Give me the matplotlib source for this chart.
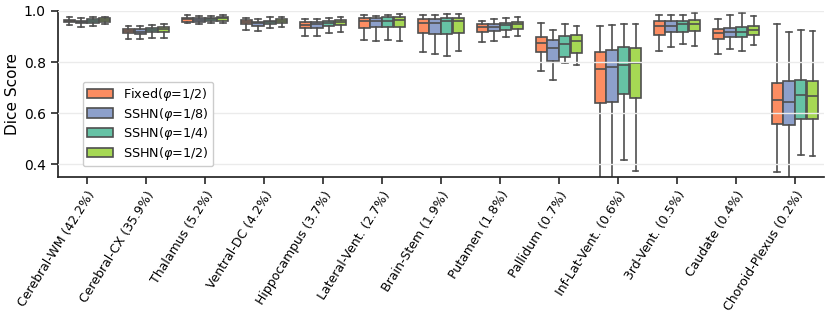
import matplotlib
matplotlib.use("Agg")
import matplotlib.pyplot as plt
from matplotlib.patches import Patch

categories = ["Cerebral-WM (42.2%)", "Cerebral-CX (35.9%)", "Thalamus (5.2%)",
              "Ventral-DC (4.2%)", "Hippocampus (3.7%)", "Lateral-Vent. (2.7%)",
              "Brain-Stem (1.9%)", "Putamen (1.8%)", "Pallidum (0.7%)",
              "Inf-Lat-Vent. (0.6%)", "3rd-Vent. (0.5%)", "Caudate (0.4%)",
              "Choroid-Plexus (0.2%)"]

series_names = ["Fixed($\\varphi$=1/2)", "SSHN($\\varphi$=1/8)",
                "SSHN($\\varphi$=1/4)", "SSHN($\\varphi$=1/2)"]
colors = ["#fc8d62", "#8da0cb", "#66c2a5", "#a6d854"]

# per-series box statistics: whisker low, q1, median, q3, whisker high
fixed_lo  = [0.945, 0.892, 0.952, 0.924, 0.902, 0.886, 0.838, 0.877, 0.766, 0.20, 0.843, 0.830, 0.371]
fixed_q1  = [0.955, 0.913, 0.957, 0.948, 0.933, 0.933, 0.913, 0.919, 0.838, 0.639, 0.907, 0.889, 0.557]
fixed_med = [0.961, 0.922, 0.967, 0.958, 0.946, 0.962, 0.954, 0.936, 0.874, 0.773, 0.941, 0.913, 0.652]
fixed_q3  = [0.966, 0.931, 0.974, 0.965, 0.956, 0.974, 0.969, 0.949, 0.898, 0.838, 0.961, 0.931, 0.717]
fixed_hi  = [0.977, 0.943, 0.983, 0.971, 0.970, 0.986, 0.984, 0.962, 0.952, 0.941, 0.983, 0.970, 0.948]

s8_lo  = [0.939, 0.892, 0.949, 0.922, 0.902, 0.884, 0.832, 0.884, 0.730, 0.20, 0.860, 0.851, 0.20]
s8_q1  = [0.952, 0.910, 0.958, 0.943, 0.935, 0.936, 0.909, 0.920, 0.803, 0.643, 0.919, 0.898, 0.553]
s8_med = [0.958, 0.919, 0.966, 0.952, 0.948, 0.961, 0.952, 0.936, 0.854, 0.780, 0.941, 0.918, 0.643]
s8_q3  = [0.961, 0.928, 0.971, 0.958, 0.957, 0.971, 0.967, 0.948, 0.886, 0.847, 0.961, 0.933, 0.725]
s8_hi  = [0.971, 0.943, 0.979, 0.967, 0.969, 0.982, 0.984, 0.970, 0.927, 0.944, 0.986, 0.986, 0.919]

s4_lo  = [0.941, 0.896, 0.954, 0.935, 0.914, 0.885, 0.823, 0.897, 0.795, 0.416, 0.870, 0.842, 0.438]
s4_q1  = [0.954, 0.917, 0.962, 0.949, 0.941, 0.939, 0.911, 0.926, 0.819, 0.675, 0.916, 0.898, 0.576]
s4_med = [0.961, 0.926, 0.967, 0.956, 0.952, 0.962, 0.960, 0.945, 0.872, 0.789, 0.948, 0.918, 0.671]
s4_q3  = [0.967, 0.933, 0.974, 0.962, 0.961, 0.975, 0.971, 0.952, 0.901, 0.858, 0.961, 0.936, 0.730]
s4_hi  = [0.976, 0.946, 0.980, 0.975, 0.974, 0.986, 0.988, 0.973, 0.948, 0.950, 0.986, 0.993, 0.924]

s2_lo  = [0.948, 0.896, 0.954, 0.939, 0.918, 0.884, 0.845, 0.903, 0.790, 0.374, 0.863, 0.867, 0.434]
s2_q1  = [0.957, 0.919, 0.962, 0.953, 0.944, 0.937, 0.914, 0.928, 0.834, 0.661, 0.920, 0.905, 0.576]
s2_med = [0.965, 0.928, 0.971, 0.962, 0.957, 0.965, 0.962, 0.948, 0.881, 0.795, 0.949, 0.924, 0.666]
s2_q3  = [0.971, 0.936, 0.978, 0.969, 0.965, 0.977, 0.971, 0.956, 0.907, 0.854, 0.964, 0.941, 0.725]
s2_hi  = [0.978, 0.948, 0.984, 0.975, 0.975, 0.988, 0.987, 0.975, 0.940, 0.948, 0.993, 0.980, 0.923]

series = [
    (fixed_lo, fixed_q1, fixed_med, fixed_q3, fixed_hi),
    (s8_lo, s8_q1, s8_med, s8_q3, s8_hi),
    (s4_lo, s4_q1, s4_med, s4_q3, s4_hi),
    (s2_lo, s2_q1, s2_med, s2_q3, s2_hi),
]

plt.rcParams['font.family'] = ['DejaVu Sans']
fig = plt.figure(figsize=(8.30, 3.14), dpi=100)
ax = fig.add_axes([0.0693, 0.436, 0.924, 0.529])

edge = "#4f4f4f"
offsets = [-0.3, -0.1, 0.1, 0.3]
for k, (lo, q1, med, q3, hi) in enumerate(series):
    stats = []
    for i in range(len(categories)):
        stats.append(dict(whislo=lo[i], q1=q1[i], med=med[i], q3=q3[i],
                          whishi=hi[i], fliers=[]))
    pos = [i + offsets[k] for i in range(len(categories))]
    ax.bxp(stats, positions=pos, widths=0.19, patch_artist=True,
           showfliers=False, manage_ticks=False,
           boxprops=dict(facecolor=colors[k], edgecolor=edge, linewidth=1.2),
           medianprops=dict(color=edge, linewidth=1.2),
           whiskerprops=dict(color=edge, linewidth=1.2),
           capprops=dict(color=edge, linewidth=1.2),
           capwidths=0.095)

ax.set_xlim(-0.5, len(categories) - 0.5)
ax.set_ylim(0.35, 1.0)
ax.set_yticks([0.4, 0.6, 0.8, 1.0])
ax.set_yticklabels(["0.4", "0.6", "0.8", "1.0"])
ax.set_xticks(range(len(categories)))
ax.set_xticklabels(categories, rotation=58, ha="right", rotation_mode="anchor",
                   fontsize=9)
ax.tick_params(axis='y', labelsize=10, length=5, width=1.2, color="#262626")
ax.tick_params(axis='x', length=5, width=1.2, color="#262626")
ax.set_ylabel("Dice Score", fontsize=11, labelpad=3)
ax.yaxis.grid(True, color="#ebebeb", linewidth=1.0, zorder=5)
ax.set_axisbelow(False)
for s in ["top", "right"]:
    ax.spines[s].set_visible(False)
for s in ["left", "bottom"]:
    ax.spines[s].set_linewidth(1.25)
    ax.spines[s].set_color("#262626")

handles = [Patch(facecolor=c, edgecolor=edge, linewidth=1.2) for c in colors]
ax.legend(handles, series_names, loc="lower left", bbox_to_anchor=(0.033, 0.066),
          borderaxespad=0, fontsize=9.2, labelspacing=0.2, handleheight=0.75,
          handlelength=2.0, borderpad=0.35, framealpha=1.0, edgecolor="#cccccc")

fig.savefig("out.png", dpi=100)
